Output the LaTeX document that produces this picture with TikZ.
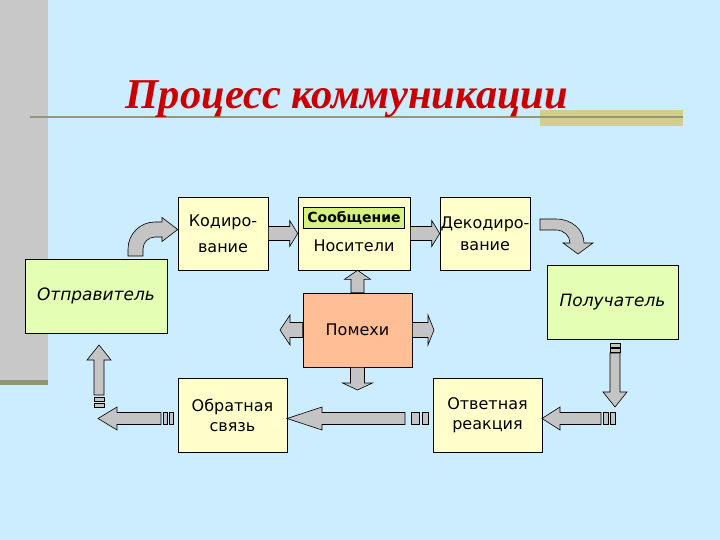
\documentclass[tikz,border=0pt]{standalone}
\usepackage{fontspec}
\setmainfont{DejaVu Sans}
\newfontfamily\titlefont{Liberation Serif}
\usetikzlibrary{calc}
\definecolor{bg}{RGB}{204,236,255}
\definecolor{stripgray}{RGB}{200,200,200}
\definecolor{stripolive}{RGB}{140,150,115}
\definecolor{khaki}{RGB}{210,206,140}
\definecolor{lineolive}{RGB}{150,150,120}
\definecolor{titlered}{RGB}{204,0,0}
\definecolor{boxyellow}{RGB}{255,255,204}
\definecolor{boxgreen}{RGB}{228,255,180}
\definecolor{boxpeach}{RGB}{255,190,150}
\definecolor{soobgreen}{RGB}{214,240,130}
\definecolor{arrowgray}{RGB}{196,196,196}
\newcommand\blkH[5]{% start, tip, shaft half, head half, head length (signed)
  \draw[blk] ($#1+(0,-#3)$) -- ($#2+({-(#5)},-#3)$) -- ($#2+({-(#5)},-#4)$) -- #2
    -- ($#2+({-(#5)},#4)$) -- ($#2+({-(#5)},#3)$) -- ($#1+(0,#3)$) -- cycle;}
\newcommand\blkV[5]{% start, tip, shaft half, head half, head length (signed)
  \draw[blk] ($#1+(-#3,0)$) -- ($#2+(-#3,{-(#5)})$) -- ($#2+(-#4,{-(#5)})$) -- #2
    -- ($#2+(#4,{-(#5)})$) -- ($#2+(#3,{-(#5)})$) -- ($#1+(#3,0)$) -- cycle;}
\begin{document}
\begin{tikzpicture}[x=1pt,y=-1pt,
  blk/.style={draw=black, line width=0.6pt, fill=arrowgray, line join=miter},
  box/.style={draw=black, line width=0.6pt, fill=boxyellow, inner sep=0pt,
    align=center, minimum width=90, minimum height=73},
  sbox/.style={box, minimum width=109, minimum height=74},
  gbox/.style={box, fill=boxgreen, font=\fontsize{17}{20}\selectfont\itshape},
  txt/.style={font=\fontsize{16}{#1}\selectfont},
  txt/.default=20]
\useasboundingbox (0,0) rectangle (720,540);
\fill[bg] (0,0) rectangle (720,540);
\fill[stripgray] (0,0) rectangle (48,380);
\fill[stripolive] (0,380) rectangle (48,385);
\fill[khaki] (540,110) rectangle (683,126);
\draw[lineolive, line width=2pt] (30,117) -- (683,117);
\node[text=titlered, font=\titlefont\bfseries\itshape\fontsize{42.5}{46}\selectfont, inner sep=0pt, anchor=base] (title) at (347,109) {Процесс коммуникации};

% boxes
\node[box, txt=26] (kod) at (223,233.5) {Кодиро-\\вание};
\node[box, minimum width=112] (nos) at (354,233.5) {};
\node[draw=black, line width=1.6pt, fill=soobgreen, minimum width=101, minimum height=21, inner sep=0pt, font=\fontsize{14}{16}\selectfont\bfseries] (soob) at (354,218) {Сообщение};
\node[txt, inner sep=0pt] (nostxt) at (354,246) {Носители};
\node[box, txt=22] (dek) at (485,233.5) {Декодиро-\\вание};
\node[gbox, minimum width=142, minimum height=74] (otp) at (96,296) {Отправитель};
\node[gbox, minimum width=131, minimum height=74] (pol) at (612.5,302) {Получатель};
\node[sbox, fill=boxpeach, txt] (pom) at (357.5,330) {Помехи};
\node[sbox, txt] (obr) at (232.5,415) {Обратная\\связь};
\node[sbox, txt] (otv) at (487.5,415) {Ответная\\реакция};

% coordinates for arrows
\coordinate (pomL) at (280,330);
\coordinate (pomR) at (434,330);
\coordinate (pomD) at (357.5,390);
\coordinate (lgS) at (405,418.5);
\coordinate (lgT) at (287,418.5);
\coordinate (obS) at (161,418.5);
\coordinate (obT) at (98,418.5);
\coordinate (upS) at (99,395);
\coordinate (upT) at (99,345);
\coordinate (dnS) at (615,353);
\coordinate (dnT) at (615,407);
\coordinate (rtS) at (601,418.5);
\coordinate (rtT) at (542,418.5);

% straight block arrows
\blkH{(kod.east)}{(nos.west)}{7}{13}{8}
\blkH{(nos.east)}{(dek.west)}{7}{13}{8}
\blkV{(pom.north)}{(pom.north |- nos.south)}{6.5}{13}{-9}
\blkV{(pom.south)}{(pomD)}{7}{15}{7}
\blkH{(pom.west)}{(pomL)}{7.5}{15}{-10}
\blkH{(pom.east)}{(pomR)}{7.5}{15}{6}

% long arrow Ответная -> Обратная (striped tail)
\blkH{(lgS)}{(lgT)}{6}{11.5}{-35}
\draw[blk] (411,412.5) rectangle (419,424.5);
\draw[blk] (422,412.5) rectangle (428,424.5);
% Обратная -> left
\blkH{(obS)}{(obT)}{6}{11.5}{-19}
\draw[blk] (163,412.5) rectangle (167,424.5);
\draw[blk] (169,412.5) rectangle (173,424.5);
% up into Отправитель
\blkV{(upS)}{(upT)}{5}{12}{-15}
\draw[blk] (94,397) rectangle (104,401);
\draw[blk] (94,403) rectangle (104,407);
% down from Получатель
\draw[blk] (610,343) rectangle (620,347);
\draw[blk] (610,348) rectangle (620,352);
\blkV{(dnS)}{(dnT)}{5}{12}{15}
% right -> Ответная
\blkH{(rtS)}{(rtT)}{6}{11.5}{-18}
\draw[blk] (603,412.5) rectangle (608,424.5);
\draw[blk] (610,412.5) rectangle (615,424.5);

% curved arrow Отправитель -> Кодирование
\draw[blk] (128,256) -- (128,249) .. controls (128,234.1) and (140.1,222) .. (155,222)
  -- (162,222) -- (162,217.5) -- (kod.west |- 0,229.5) -- (162,241.5) -- (162,237) -- (155,237)
  .. controls (148.4,237) and (143,242.4) .. (143,249) -- (143,256) -- cycle;
% curved arrow Декодирование -> Получатель
\draw[blk] (540,219) -- (556,219) .. controls (571.5,219) and (584,229.7) .. (584,243)
  -- (593,243) -- (578,254) -- (563,243) -- (570,243)
  .. controls (570,235.8) and (563.7,230) .. (556,230) -- (540,230) -- cycle;
\end{tikzpicture}
\end{document}
